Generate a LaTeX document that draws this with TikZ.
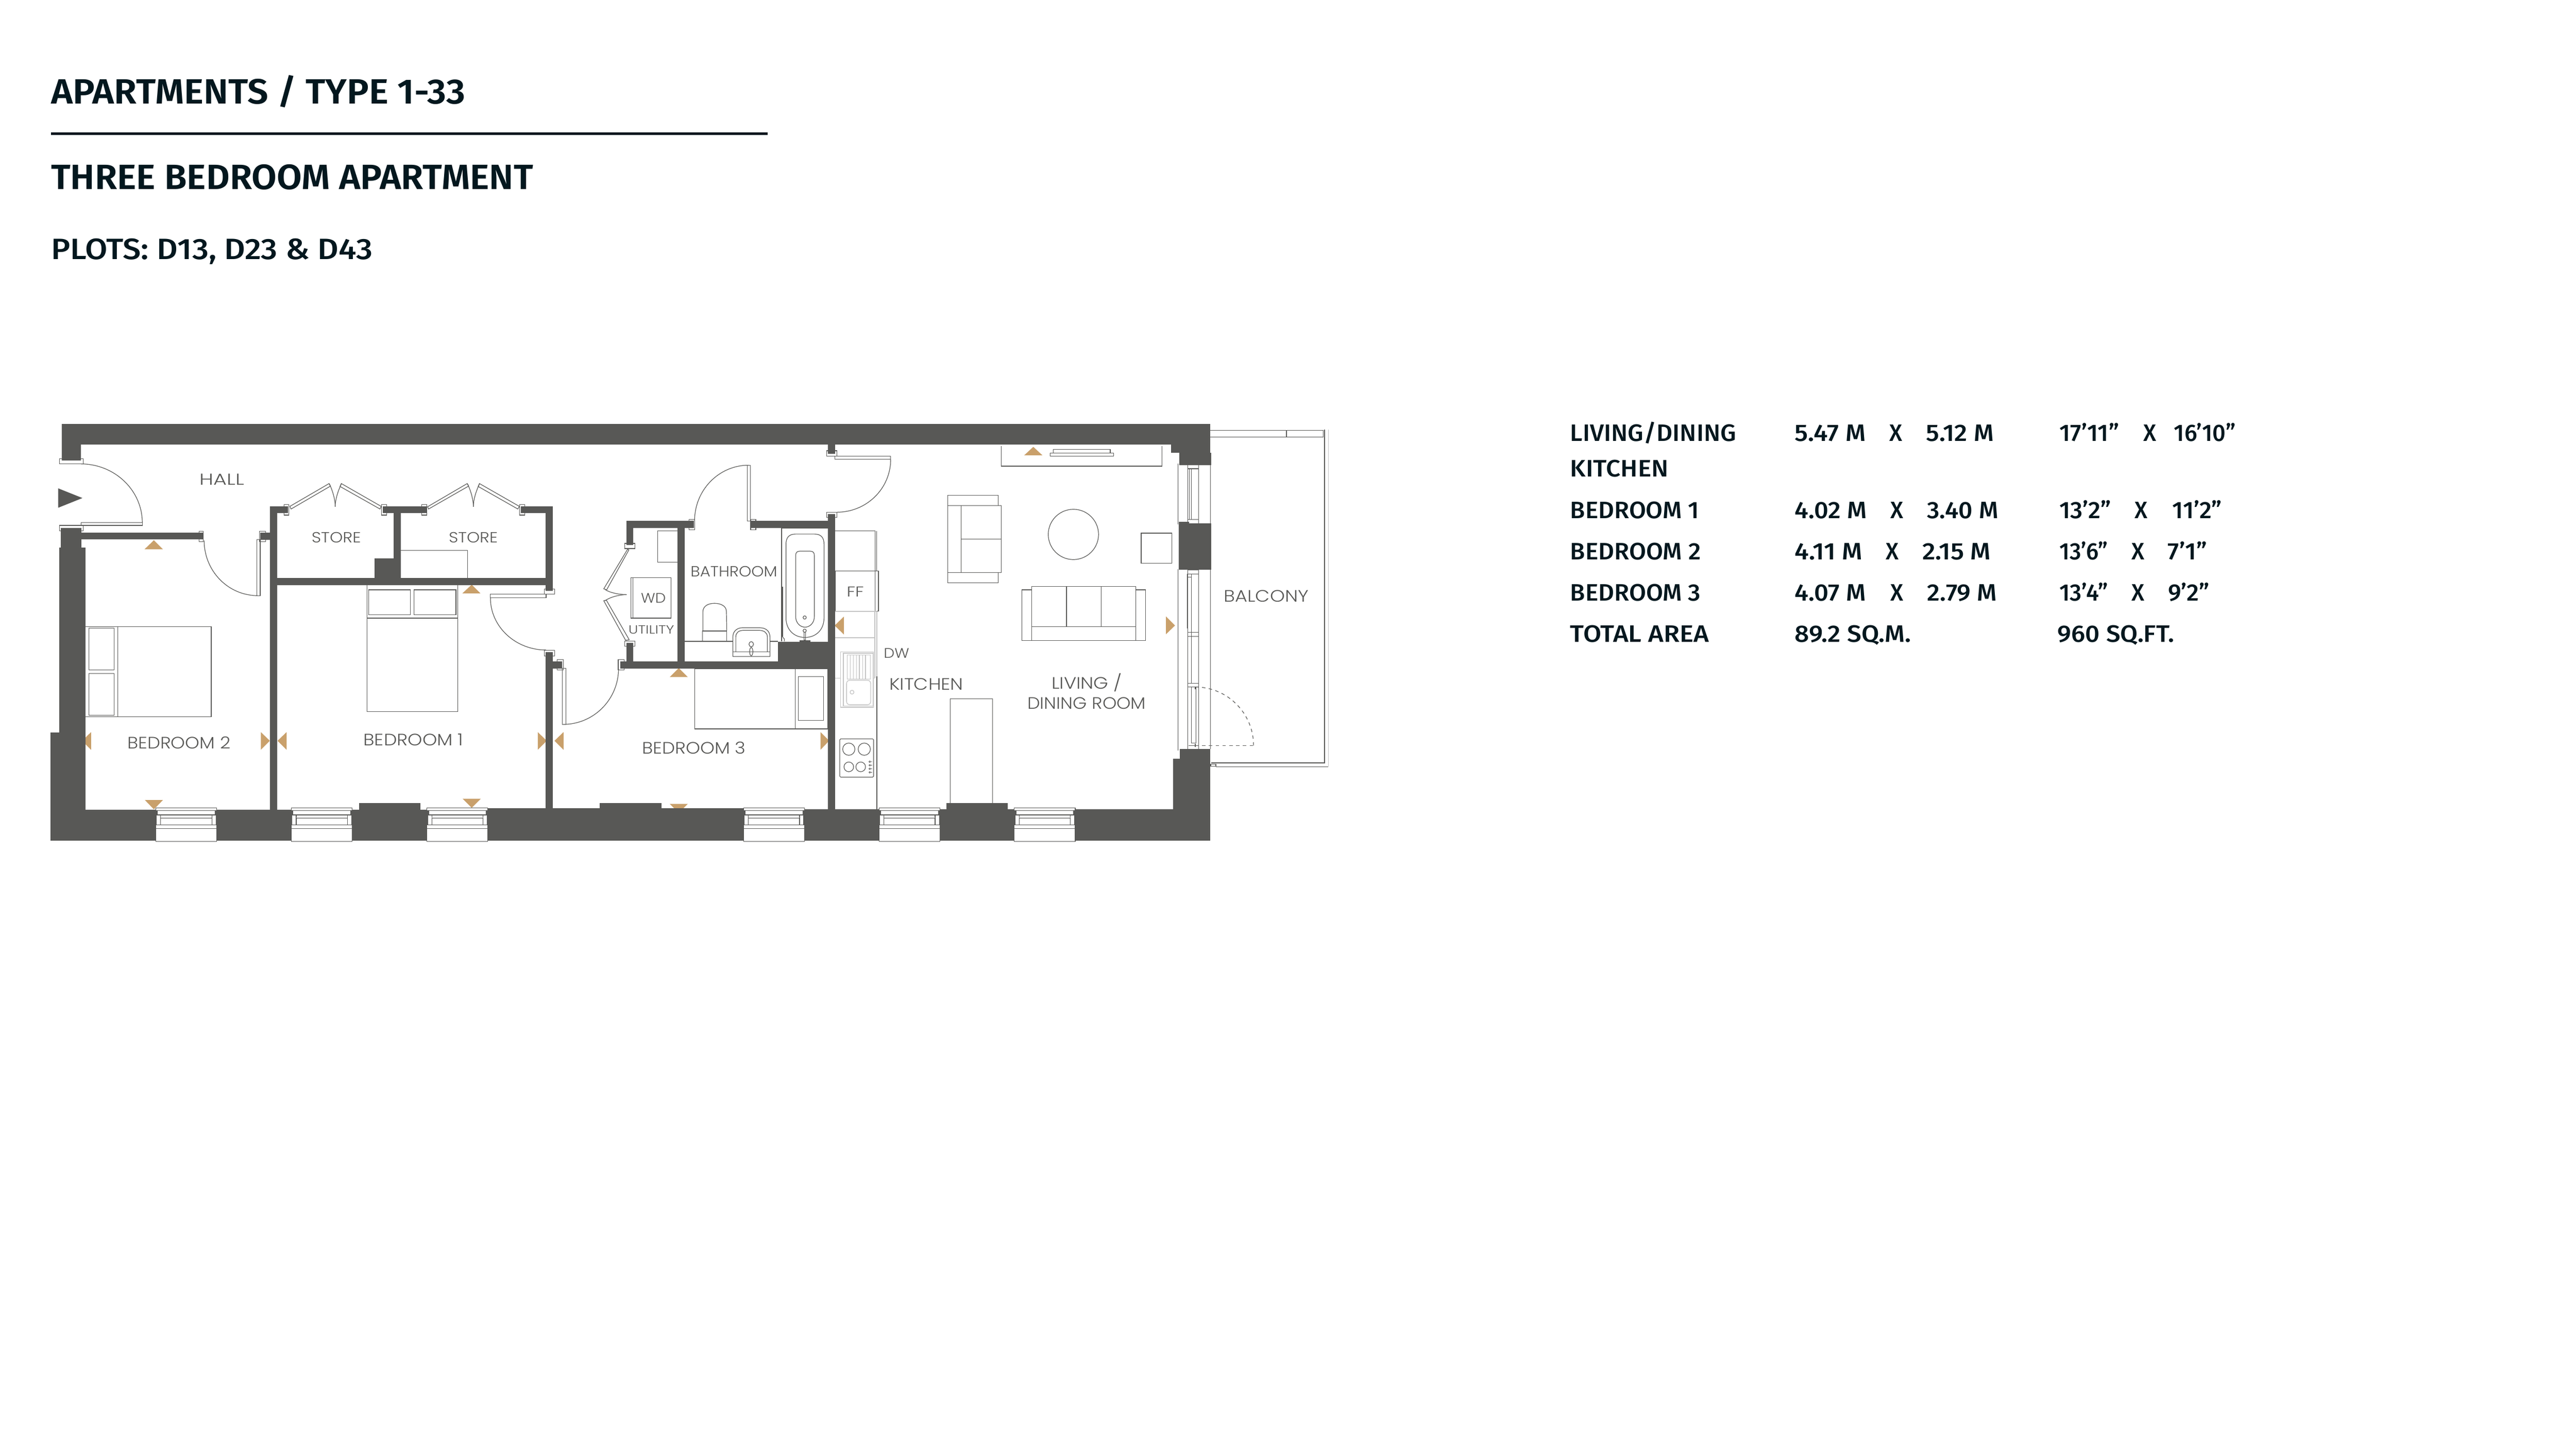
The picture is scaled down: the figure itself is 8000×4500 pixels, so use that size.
\documentclass[tikz,border=0pt]{standalone}
\usepackage{graphicx}
\usepackage{fontspec}
\setmainfont{Fira Sans}
\newfontfamily\planfont{Poppins Light}
\newfontfamily\headfont{Fira Sans SemiBold}
\newfontfamily\medfont{Fira Sans Medium}
\definecolor{wallc}{HTML}{585856}
\definecolor{tanc}{HTML}{C9A06B}
\definecolor{inkc}{HTML}{03171E}
\definecolor{paleline}{HTML}{C4C4C4}
\newcommand\qarc[7][]{\draw[ln,#1] (#2,#3) .. controls ({#2+0.5523*(#6-#4)},{#3+0.5523*(#7-#5)}) and ({#6+0.5523*(#2-#4)},{#7+0.5523*(#3-#5)}) .. (#6,#7);}
\newcommand\fitw[2]{\resizebox{#1cm}{\height}{#2}}
\newcommand\lab[6]{\node[txt,text=wallc,font={\planfont\fontsize{#5}{#5}\selectfont}] (#1) at (#2,#3) {\fitw{#4}{#6}};}
\newcommand\tc[5]{\node[txt,text=inkc,font={\medfont\fontsize{21}{21}\selectfont}] (#1) at (#2,#3) {\fitw{#4}{#5}};}
\newcommand\win[1]{%
  \fill[white] (#1,2509) rectangle ++(189,8);
  \fill[white] (#1+6,2517) rectangle ++(177,14);
  \fill[white] (#1+2,2531) rectangle ++(185,32);
  \fill[white] (#1,2563) rectangle ++(189,51);
  \draw[ln] (#1,2531) -- (#1,2509) -- (#1+189,2509) -- (#1+189,2531);
  \draw[ln] (#1+1,2517) -- (#1+188,2517);
  \draw[ln,line width=0.9pt] (#1+1,2531) -- (#1+188,2531);
  \draw[ln] (#1+2,2531) -- (#1+2,2563) (#1+15,2531) -- (#1+15,2563) (#1+174,2531) -- (#1+174,2563) (#1+187,2531) -- (#1+187,2563);
  \draw[thinl,paleline] (#1+15,2539) -- (#1+174,2539);
  \draw[ln] (#1+15,2542) -- (#1+174,2542);
  \draw[ln] (#1+1,2563) -- (#1+188,2563) (#1+1,2573) -- (#1+188,2573);
  \draw[ln] (#1,2563) -- (#1,2614) -- (#1+189,2614) -- (#1+189,2563);
}
\tikzset{
  x=0.01cm,y=-0.01cm,
  ln/.style={draw=wallc,line width=0.55pt},
  thinl/.style={draw=wallc,line width=0.4pt},
  wall/.style={fill=wallc},
  tri/.style={fill=tanc},
  txt/.style={inner sep=0pt,anchor=base west},
  pale/.style={draw=paleline,line width=0.6pt},
}
\begin{document}
\begin{tikzpicture}
\useasboundingbox (0,0) rectangle (8000,4500);
\fill[white] (0,0) rectangle (8000,4500);

% headings
\node[txt,text=inkc,font={\headfont\fontsize{31}{31}\selectfont}] (title) at (158,323) {\fitw{12.86}{APARTMENTS / TYPE 1-33}};
\fill[inkc] (158,411) rectangle (2384,420);
\node[txt,text=inkc,font={\headfont\fontsize{31}{31}\selectfont}] (subtitle) at (158,588) {\fitw{14.96}{THREE BEDROOM APARTMENT}};
\node[txt,text=inkc,font={\medfont\fontsize{26}{26}\selectfont}] (plots) at (158,806) {\fitw{9.98}{PLOTS: D13, D23 \& D43}};

% schedule
\tc{a1}{4876}{1371}{5.15}{LIVING/DINING}
\tc{a2}{5573}{1371}{2.20}{5.47 M}
\tc{a3}{5868}{1371}{0.40}{X}
\tc{a4}{5981}{1371}{2.10}{5.12 M}
\tc{a5}{6395}{1371}{1.85}{17’11”}
\tc{a6}{6656}{1371}{0.40}{X}
\tc{a7}{6751}{1371}{1.91}{16’10”}
\tc{k1}{4876}{1480}{3.05}{KITCHEN}
\tc{b1}{4876}{1610}{4.00}{BEDROOM 1}
\tc{b2}{5573}{1610}{2.24}{4.02 M}
\tc{b3}{5871}{1610}{0.40}{X}
\tc{b4}{5984}{1610}{2.21}{3.40 M}
\tc{b5}{6395}{1610}{1.61}{13’2”}
\tc{b6}{6629}{1610}{0.40}{X}
\tc{b7}{6746}{1610}{1.54}{11’2”}
\tc{c1}{4876}{1739}{4.05}{BEDROOM 2}
\tc{c2}{5573}{1739}{2.10}{4.11 M}
\tc{c3}{5856}{1739}{0.40}{X}
\tc{c4}{5969}{1739}{2.13}{2.15 M}
\tc{c5}{6395}{1739}{1.51}{13’6”}
\tc{c6}{6619}{1739}{0.40}{X}
\tc{c7}{6732}{1739}{1.22}{7’1”}
\tc{d1}{4876}{1867}{4.05}{BEDROOM 3}
\tc{d2}{5573}{1867}{2.21}{4.07 M}
\tc{d3}{5871}{1867}{0.40}{X}
\tc{d4}{5984}{1867}{2.17}{2.79 M}
\tc{d5}{6395}{1867}{1.51}{13’4”}
\tc{d6}{6619}{1867}{0.40}{X}
\tc{d7}{6732}{1867}{1.29}{9’2”}
\tc{e1}{4876}{1995}{4.30}{TOTAL AREA}
\tc{e2}{5573}{1995}{3.61}{89.2 SQ.M.}
\tc{e3}{6389}{1995}{3.62}{960 SQ.FT.}

% balcony
\draw[ln] (3759,1337) -- (4110,1337) -- (4110,1358) -- (3759,1358);
\draw[ln] (3995,1337) -- (3995,1358);
\draw[ln,line width=0.9pt] (4114,1335) -- (4114,2370) -- (3761,2370);
\draw[ln] (3776,2381) -- (4125,2381);
\draw[pale] (4125,1335) -- (4125,2381);
\draw[ln] (3760,2374) rectangle (3776,2380);

% furniture: bedroom 2
\draw[ln] (265,1946) rectangle (656,2227);
\draw[ln] (365,1946) -- (365,2227);
\draw[ln] (276,1951) rectangle (354,2081);
\draw[ln] (276,2092) rectangle (354,2222);
% bedroom 1
\draw[ln] (1140,1817) rectangle (1421,2211);
\draw[ln] (1140,1920) -- (1421,1920);
\draw[ln] (1145,1832) rectangle (1275,1910);
\draw[ln] (1285,1832) rectangle (1416,1910);
\draw[ln] (1245,1710) -- (1452,1710) -- (1452,1796);
% bedroom 3
\draw[ln] (2157,2077) rectangle (2571,2264);
\draw[ln] (2469,2077) -- (2469,2264);
\draw[ln] (2479,2102) rectangle (2557,2237);
% utility
\draw[ln] (1959,1795) rectangle (2084,1920);
\draw[ln] (1965,1795) -- (1965,1920);
\draw[ln] (2104,1649) -- (2042,1649) -- (2042,1747) -- (2104,1747);
\draw[ln] (1949,1706) -- (1875,1829) -- (1884,1832) -- (1953,1708) -- cycle;
\draw[ln] (1943,1989) -- (1875,1866) -- (1883,1864) -- (1954,1987) -- cycle;
\draw[ln] (1879,1831) .. controls (1895,1842) and (1925,1847) .. (1946,1847);
\draw[ln] (1879,1866) .. controls (1895,1854) and (1925,1847) .. (1946,1847);
% bathroom
\draw[ln] (2427,1992) -- (2427,1640) -- (2571,1640);
\draw[ln] (2441,1690) .. controls (2441,1670) and (2450,1659) .. (2470,1659) -- (2530,1659) .. controls (2550,1659) and (2559,1670) .. (2559,1690) -- (2559,1920) .. controls (2559,1955) and (2535,1980) .. (2500,1980) .. controls (2465,1980) and (2441,1955) .. (2441,1920) -- cycle;
\draw[ln] (2471,1725) .. controls (2471,1716) and (2476,1712) .. (2484,1712) -- (2516,1712) .. controls (2524,1712) and (2529,1716) .. (2529,1725) -- (2529,1915) .. controls (2529,1935) and (2515,1948) .. (2500,1948) .. controls (2485,1948) and (2471,1935) .. (2471,1915) -- cycle;
\draw[ln] (2499,1918) circle[x radius=0.05cm,y radius=0.05cm];
\draw[ln] (2499,1959) circle[x radius=0.05cm,y radius=0.05cm];
\draw[ln] (2497,1964) rectangle (2501,1988);
\draw[ln] (2484,1989) rectangle (2516,1992);
\draw[ln,line width=0.8pt] (2430,1822) -- (2430,1978);
\draw[ln] (2430,1978) -- (2436,1985) -- (2436,1992);
\draw[ln] (2183,1958) -- (2183,1900) .. controls (2183,1882) and (2200,1874) .. (2219,1874) .. controls (2238,1874) and (2256,1882) .. (2256,1900) -- (2257,1958);
\draw[ln] (2181,1960) rectangle (2257,1992);
\draw[ln] (2126,1992) -- (2416,1992);
\draw[ln,fill=white] (2276,2039) -- (2276,1978) .. controls (2276,1960) and (2290,1950) .. (2305,1950) -- (2360,1950) .. controls (2378,1950) and (2391,1960) .. (2391,1978) -- (2391,2039) -- cycle;
\draw[ln] (2285,2025) -- (2285,1978) .. controls (2285,1965) and (2295,1958) .. (2308,1958) -- (2358,1958) .. controls (2372,1958) and (2383,1965) .. (2383,1978) -- (2383,2025);
\draw[ln] (2276,2025) -- (2391,2025);
\draw[ln] (2333,2001) circle[x radius=0.07cm,y radius=0.08cm];
\draw[ln] (2333,2024) circle[x radius=0.05cm,y radius=0.13cm];
% kitchen
\draw[ln] (2594,1649) -- (2717,1649) -- (2717,1773);
\draw[ln] (2722,1649) -- (2722,1773);
\draw[ln] (2594,1773) rectangle (2728,1899);
\draw[ln] (2717,1773) -- (2717,1899);
\draw[pale] (2594,1899) -- (2723,1899);
\draw[pale] (2717,1899) -- (2717,2106);
\draw[pale] (2594,1981) -- (2717,1981);
\draw[pale] (2594,2106) -- (2717,2106);
\draw[pale] (2723,1899) -- (2723,2100);
\draw[ln] (2723,2100) -- (2723,2514);
\draw[pale,fill=white] (2610,2025) rectangle (2713,2197);
\draw[pale] (2619,2029) rectangle (2712,2193);
\foreach \gx in {2631,2641,2650,2660,2669,2679,2688,2703}{
  \draw[pale] (\gx,2034) -- (\gx,2110);
}
\draw[pale] (2631,2034) -- (2703,2034) (2631,2110) -- (2703,2110);
\draw[pale,rounded corners=0.1cm] (2629,2113) rectangle (2704,2189);
\draw[pale] (2646,2150) circle[x radius=0.06cm,y radius=0.06cm];
\draw[ln,rounded corners=0.03cm] (2608,2295) rectangle (2713,2414);
\draw[ln] (2636,2327) circle[x radius=0.19cm,y radius=0.19cm];
\draw[ln] (2684,2327) circle[x radius=0.19cm,y radius=0.19cm];
\draw[ln] (2636,2382) circle[x radius=0.15cm,y radius=0.15cm];
\draw[ln] (2673,2382) circle[x radius=0.15cm,y radius=0.15cm];
\foreach \ky in {2366,2377,2388,2399}{
  \draw[thinl] (2701,\ky) circle[x radius=0.025cm,y radius=0.025cm] (2704,\ky) -- (2708,\ky);
}
\draw[ln] (2951,2494) -- (2951,2170) -- (3082,2170) -- (3082,2494);
% living
\draw[ln] (3110,1385) -- (3110,1448) -- (3609,1448) -- (3609,1385);
\draw[ln] (3261,1407) rectangle (3458,1417);
\draw[ln] (3271,1396) rectangle (3448,1407);
\draw[ln] (2943,1571) rectangle (3110,1779);
\draw[ln] (2985,1571) -- (2985,1779);
\draw[ln] (2985,1675) -- (3110,1675);
\draw[ln] (2943,1539) rectangle (3100,1571);
\draw[ln] (2943,1779) rectangle (3100,1810);
\draw[ln] (3333.5,1660) circle[x radius=0.78cm,y radius=0.78cm];
\draw[ln] (3544,1656) rectangle (3639,1750);
\draw[ln] (3204,1822) rectangle (3527,1989);
\draw[ln] (3173,1832) rectangle (3204,1989);
\draw[ln] (3527,1832) rectangle (3558,1989);
\draw[ln] (3312,1822) -- (3312,1947);
\draw[ln] (3420,1822) -- (3420,1947);
\draw[ln] (3204,1947) -- (3527,1947);

% tan markers
\fill[tri] (478,1678) -- (449,1706) -- (506,1706) -- cycle;
\fill[tri] (1465,1816) -- (1436,1843) -- (1492,1843) -- cycle;
\fill[tri] (2108,2075) -- (2080,2103) -- (2136,2103) -- cycle;
\fill[tri] (3209,1388) -- (3181,1414) -- (3237,1414) -- cycle;
\fill[tri] (478,2514) -- (450,2485) -- (506,2485) -- cycle;
\fill[tri] (1465,2509) -- (1437,2481) -- (1493,2481) -- cycle;
\fill[tri] (2108,2525) -- (2080,2497) -- (2136,2497) -- cycle;
\fill[tri] (255,2301) -- (283,2274) -- (283,2329) -- cycle;
\fill[tri] (838,2301) -- (810,2274) -- (810,2329) -- cycle;
\fill[tri] (862,2301) -- (890,2274) -- (890,2329) -- cycle;
\fill[tri] (1698,2301) -- (1670,2274) -- (1670,2329) -- cycle;
\fill[tri] (1722,2301) -- (1750,2274) -- (1750,2329) -- cycle;
\fill[tri] (2575,2301) -- (2548,2274) -- (2548,2329) -- cycle;
\fill[tri] (2592,1943) -- (2621,1915) -- (2621,1971) -- cycle;
\fill[tri] (3649,1943) -- (3621,1915) -- (3621,1970) -- cycle;
% entry arrow
\fill[wall] (181,1517) -- (256,1547) -- (181,1577) -- cycle;

% glazing
\draw[ln] (3658,1440) -- (3658,1629);
\draw[ln] (3759,1443) -- (3759,1626);
\draw[ln] (3689,1446) -- (3689,1626);
\draw[ln] (3722,1446) -- (3722,1626);
\draw[ln] (3689,1444) rectangle (3722,1456);
\draw[ln] (3689,1614) rectangle (3722,1626);
\draw[ln] (3693,1456) -- (3693,1614);
\draw[ln] (3700,1456) -- (3700,1614);
\draw[ln] (3658,1768) -- (3658,2331);
\draw[ln] (3759,1770) -- (3759,2326);
\draw[ln] (3722,1770) -- (3722,2326);
\draw[ln] (3689,1770) -- (3689,2326);
\draw[ln] (3689,1771) rectangle (3722,1783);
\draw[ln] (3687,1783) rectangle (3700,1793);
\draw[ln] (3687,1793) -- (3687,1952) (3700,1793) -- (3700,2123);
\draw[ln] (3689,1964) rectangle (3722,1977);
\draw[ln] (3689,2123) rectangle (3722,2134);
\draw[ln] (3700,2134) -- (3700,2308) (3714,2134) -- (3714,2308);
\draw[ln] (3700,2308) -- (3714,2308);
\draw[ln] (3691,2316) -- (3722,2316);
\qarc[dashed]{3712}{2134}{3712}{2316}{3893}{2316}
\draw[ln,dashed] (3712,2316) -- (3893,2316);
\draw[ln] (3712,2134) -- (3712,2140) (3712,2310) -- (3712,2320);

% walls
\fill[wall] (192,1316) rectangle (3759,1380);
\fill[wall] (192,1316) rectangle (251,1430);
\fill[wall] (189,1640) rectangle (253,1700);
\fill[wall] (184,1700) rectangle (265,2275);
\fill[wall] (156,2275) rectangle (265,2611);
\fill[wall] (156,2515) rectangle (1332,2611);
\fill[wall] (1115,2494) rectangle (1305,2515);
\fill[wall] (1332,2510) rectangle (2491,2611);
\fill[wall] (1863,2494) rectangle (2055,2510);
\fill[wall] (2491,2514) rectangle (3759,2611);
\fill[wall] (2939,2494) rectangle (3130,2514);
\fill[wall] (3643,2357) rectangle (3759,2611);
\fill[wall] (3664,2326) rectangle (3759,2357);
\fill[wall] (3637,1380) rectangle (3759,1406);
\fill[wall] (3663,1406) rectangle (3761,1444);
\fill[wall] (3660,1621) rectangle (3692,1626);
\fill[wall] (3660,1626) rectangle (3761,1770);
\fill[wall] (251,1655) rectangle (631,1675);
\fill[wall] (808,1655) rectangle (838,1677);
\fill[wall] (838,1572) rectangle (860,2515);
\fill[wall] (838,1572) rectangle (895,1594);
\fill[wall] (838,1795) rectangle (1717,1817);
\fill[wall] (1189,1572) rectangle (1325,1594);
\fill[wall] (1222,1594) rectangle (1245,1796);
\fill[wall] (1163,1735) rectangle (1245,1796);
\fill[wall] (1618,1572) rectangle (1717,1594);
\fill[wall] (1695,1572) rectangle (1717,1835);
\fill[wall] (1695,2025) rectangle (1717,2515);
\fill[wall] (1717,2055) rectangle (1745,2077);
\fill[wall] (1927,2055) rectangle (2571,2077);
\fill[wall] (1945,1996) rectangle (1967,2055);
\fill[wall] (1945,1617) rectangle (1967,1692);
\fill[wall] (1945,1617) rectangle (2155,1640);
\fill[wall] (2104,1640) rectangle (2126,2055);
\fill[wall] (2331,1617) rectangle (2571,1640);
\fill[wall] (2571,1597) rectangle (2594,2515);
\fill[wall] (2571,1380) rectangle (2594,1410);
\fill[wall] (2416,1993) rectangle (2571,2055);

% windows
\win{484}
\win{905}
\win{1326}
\win{2309}
\win{2730}
\win{3150}

% door jambs
\draw[ln] (185,1425) rectangle (258,1441);
\draw[ln] (185,1632) rectangle (258,1649);
\draw[ln] (618,1651) rectangle (631,1683);
\draw[ln] (805,1651) rectangle (825,1683);
\draw[ln] (883,1567) rectangle (897,1600);
\draw[ln] (1185,1567) rectangle (1201,1600);
\draw[ln] (1310,1567) rectangle (1326,1600);
\draw[ln] (1613,1567) rectangle (1629,1600);
\draw[ln] (1690,1830) rectangle (1722,1846);
\draw[ln] (1691,2020) rectangle (1722,2037);
\draw[ln] (1731,2049) rectangle (1749,2081);
\draw[ln] (1920,2049) rectangle (1938,2081);
\draw[ln] (1940,1688) rectangle (1972,1704);
\draw[ln] (1940,1991) rectangle (1972,2007);
\draw[ln] (2140,1613) rectangle (2157,1645);
\draw[ln] (2331,1613) rectangle (2347,1645);
\draw[ln] (2567,1400) rectangle (2599,1417);
\draw[ln] (2567,1591) rectangle (2599,1607);

% door leaves and swings
\draw[ln] (252,1623) rectangle (442,1632);
\qarc{251}{1441}{252}{1623}{442}{1623}
\draw[ln] (798,1676) rectangle (808,1851);
\qarc{634}{1679}{800}{1679}{800}{1850}
\draw[ln] (1523,1846) rectangle (1696,1857);
\qarc{1523}{1857}{1696}{1857}{1696}{2019}
\draw[ln] (1747,2076) rectangle (1758,2250);
\qarc{1921}{2076}{1749}{2076}{1749}{2250}
\draw[ln] (2321,1445) rectangle (2330,1618);
\qarc{2157}{1618}{2325}{1618}{2325}{1445}
\draw[ln] (2593,1417) rectangle (2766,1427);
\qarc{2766}{1427}{2599}{1427}{2599}{1591}
% store doors
\draw[ln] (900,1573) -- (1022,1502) -- (1026,1510) -- (904,1581) -- cycle;
\draw[ln] (1184,1573) -- (1060,1502) -- (1056,1511) -- (1180,1581) -- cycle;
\draw[ln] (1023,1503) .. controls (1034,1527) and (1041,1552) .. (1041,1574);
\draw[ln] (1060,1503) .. controls (1049,1527) and (1041,1552) .. (1041,1574);
\draw[ln] (1328,1574) -- (1451,1502) -- (1455,1510) -- (1331,1581) -- cycle;
\draw[ln] (1613,1573) -- (1489,1502) -- (1485,1511) -- (1608,1581) -- cycle;
\draw[ln] (1452,1503) .. controls (1463,1527) and (1470,1552) .. (1470,1574);
\draw[ln] (1489,1503) .. controls (1478,1527) and (1470,1552) .. (1470,1574);

% room labels
\lab{hall}{620}{1506}{1.38}{14}{HALL}
\lab{store1}{967}{1685}{1.53}{13}{STORE}
\lab{store2}{1393}{1685}{1.52}{13}{STORE}
\lab{bed2}{395}{2326}{3.20}{14.6}{BEDROOM 2}
\lab{bed1}{1128}{2316}{3.10}{14.6}{BEDROOM 1}
\lab{bed3}{1993}{2342}{3.22}{14.6}{BEDROOM 3}
\lab{bath}{2144}{1791}{2.69}{13}{BATHROOM}
\lab{wd}{1990}{1872}{0.77}{12.2}{WD}
\lab{util}{1951}{1969}{1.42}{10.5}{UTILITY}
\lab{ff}{2629}{1853}{0.53}{12.6}{FF}
\lab{dw}{2744}{2044}{0.79}{12.2}{DW}
\lab{kit}{2761}{2143}{2.30}{14.6}{KITCHEN}
\lab{liv}{3265}{2140}{2.19}{14.6}{LIVING /}
\lab{din}{3190}{2202}{3.68}{14.6}{DINING ROOM}
\lab{bal}{3800}{1870}{2.63}{14.6}{BALCONY}
\end{tikzpicture}
\end{document}
